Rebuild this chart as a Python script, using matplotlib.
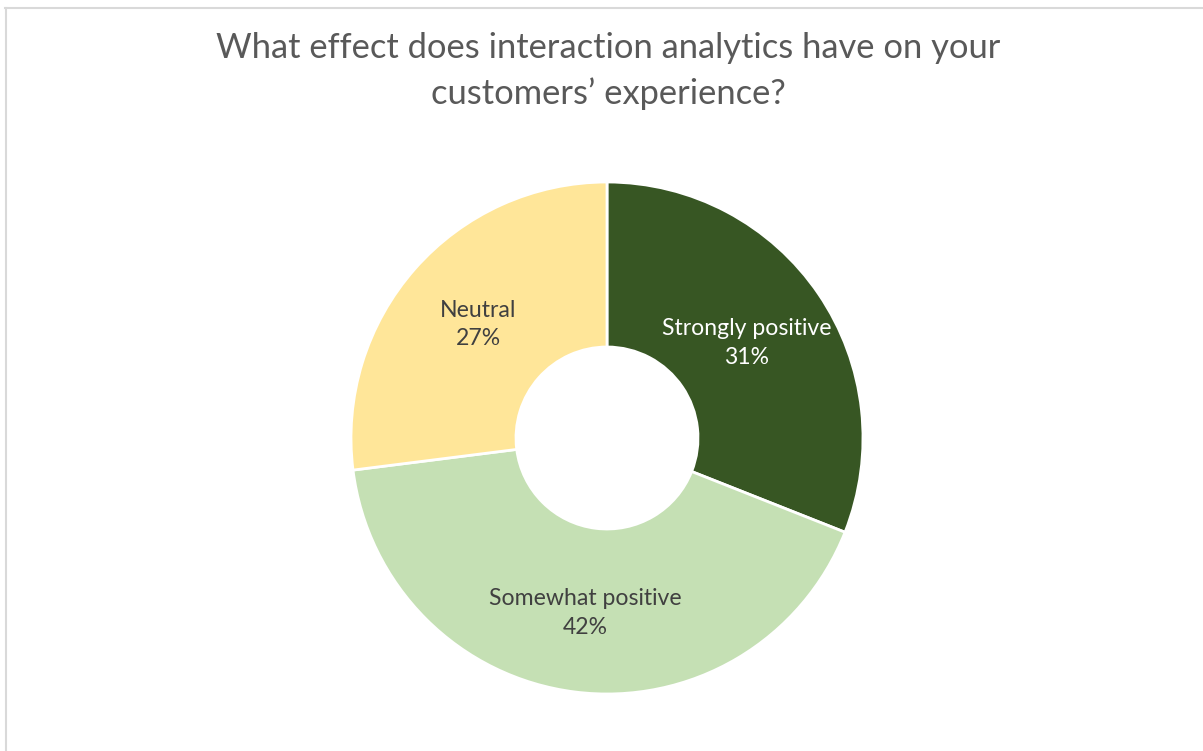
import numpy as np
import matplotlib.pyplot as plt
from matplotlib.lines import Line2D

# survey answers
answers = ["Strongly positive", "Somewhat positive", "Neutral"]
shares = [31, 42, 27]
colors = ["#375623", "#C5E0B4", "#FFE699"]
label_colors = ["white", "#404040", "#404040"]

title = "What effect does interaction analytics have on your\ncustomers\u2019 experience?"

W, H = 1203, 751
fig = plt.figure(figsize=(W / 100, H / 100), dpi=100)
fig.patch.set_facecolor("white")

# thin frame along top and left edge
fig.add_artist(Line2D([5 / W, 1], [1 - 8 / H, 1 - 8 / H], color="#D9D9D9", lw=1.5))
fig.add_artist(Line2D([5.5 / W, 5.5 / W], [0, 1 - 8 / H], color="#D9D9D9", lw=1.5))

cx, cy, r = 607, 438, 256
ax = fig.add_axes([(cx - r) / W, (H - cy - r) / H, 2 * r / W, 2 * r / H])
wedges, _ = ax.pie(shares, colors=colors, startangle=90, counterclock=False,
                   radius=1, wedgeprops=dict(width=1 - 91 / 256, edgecolor="white", linewidth=2))
ax.set_xlim(-1, 1)
ax.set_ylim(-1, 1)
ax.set_aspect("equal")
ax.axis("off")

# label radius per wedge (fraction of outer radius)
label_r = [0.66, 0.69, 0.67]
for w, name, val, c, d in zip(wedges, answers, shares, label_colors, label_r):
    mid = np.deg2rad((w.theta1 + w.theta2) / 2)
    ax.text(d * np.cos(mid), d * np.sin(mid), f"{name}\n{val}%", ha="center", va="center",
            fontsize=16.6, color=c, family="Lato", linespacing=1.45)

fig.text(608 / W, 1 - 71 / H, title, ha="center", va="center", fontsize=24.8,
         color="#595959", family="Lato", linespacing=1.5)

fig.savefig("out.png", dpi=100)
